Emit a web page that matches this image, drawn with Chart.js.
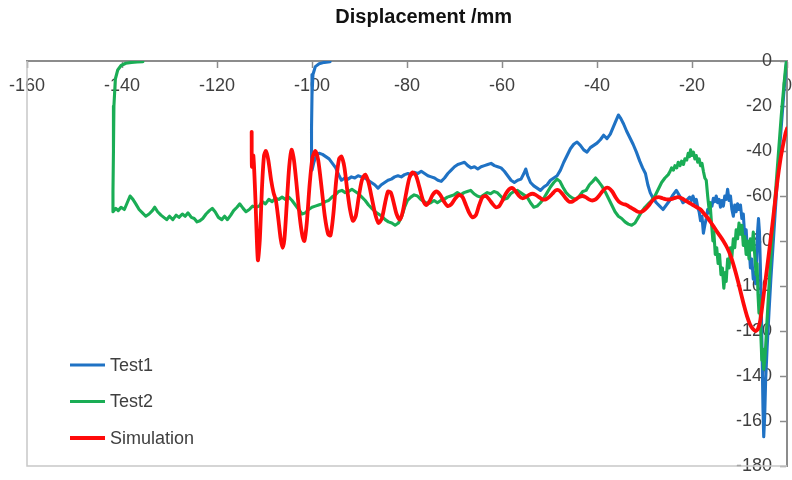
<!DOCTYPE html>
<html>
<head>
<meta charset="utf-8">
<title>Displacement /mm</title>
<script src="https://cdn.jsdelivr.net/npm/chart.js@4/dist/chart.umd.min.js"></script>
<style>
  html, body { margin: 0; padding: 0; background: #ffffff; }
  #wrap { position: relative; width: 792px; height: 480px; }
</style>
</head>
<body>
<div id="wrap"><canvas id="chart" width="792" height="480"></canvas></div>
<script>
// Displacement traces: [x, y] pairs in mm
const test1Points = [
  [-96.2,-0.3],[-97.4,-0.6],[-98.5,-1.2],[-99.3,-2.5],[-99.8,-6],[-100.0,-15],[-100.1,-30],[-100.1,-42],[-100.0,-48.5],[-99.6,-45],
  [-99.1,-42],[-98.5,-41],[-97.8,-41.5],[-97.1,-42.5],[-96.4,-43.5],[-95.7,-45.5],[-95.0,-47.5],[-94.4,-50.5],[-93.8,-53],[-93.1,-52],
  [-92.4,-52.5],[-91.7,-51.5],[-91.0,-52],[-90.3,-51],[-89.6,-51.5],[-88.9,-52],[-88.2,-53],[-87.5,-54],[-86.8,-55],[-86.1,-56.5],
  [-85.4,-55],[-84.7,-54],[-84.0,-53],[-83.3,-52.5],[-82.6,-51.5],[-81.9,-51],[-81.2,-51.5],[-80.5,-50.5],[-79.8,-50],[-79.1,-50.5],
  [-78.4,-49.5],[-77.7,-50],[-77.0,-49],[-76.3,-50],[-75.6,-51],[-74.9,-51.5],[-74.2,-52],[-73.5,-53],[-72.8,-53.5],[-72.1,-52],
  [-71.4,-50],[-70.7,-48.5],[-70.0,-47],[-69.3,-46],[-68.6,-45.5],[-67.9,-45],[-67.2,-46.5],[-66.5,-47.5],[-65.8,-47],[-65.1,-48],
  [-64.4,-47],[-63.7,-46.5],[-63.0,-46],[-62.3,-45.5],[-61.6,-46.5],[-60.9,-47],[-60.2,-47.5],[-59.5,-49],[-58.8,-51],[-58.1,-53],
  [-57.4,-54],[-56.7,-53],[-56.0,-52.5],[-55.4,-50],[-55.0,-48],[-54.6,-51],[-54.0,-54],[-53.3,-55.5],[-52.6,-56.5],[-51.9,-57.5],
  [-51.2,-56],[-50.5,-55],[-49.8,-53],[-49.1,-52],[-48.4,-51],[-47.7,-48.5],[-47.0,-45],[-46.3,-42],[-45.6,-39],[-44.9,-37],
  [-44.2,-36],[-43.5,-37.5],[-42.8,-39.5],[-42.1,-40.5],[-41.4,-38.5],[-40.7,-37.5],[-40.0,-36.5],[-39.3,-35],[-38.6,-33],[-37.9,-34.5],
  [-37.2,-32.5],[-36.6,-29.5],[-36.0,-26.5],[-35.5,-24],[-35.0,-25.5],[-34.4,-28],[-33.8,-31],[-33.1,-34],[-32.4,-37],[-31.7,-40.5],
  [-31.0,-44.5],[-30.4,-47.5],[-29.8,-50],[-29.3,-55],[-28.8,-58.5],[-28.2,-61],[-27.5,-63],[-26.8,-64.5],[-26.1,-66],[-25.4,-64],
  [-24.7,-62],[-24.0,-59.5],[-23.3,-57.5],[-22.6,-60],[-21.9,-63],[-21.2,-62],[-20.5,-60.5],[-20.1,-62],[-19.8,-60],[-19.4,-63],
  [-19.1,-61.5],[-18.8,-65],[-18.5,-67],[-18.2,-71],[-17.9,-69],[-17.6,-76.5],[-17.3,-73],[-17.0,-70],[-16.7,-66],[-16.4,-67.5],
  [-16.1,-63],[-15.8,-64.5],[-15.5,-61],[-15.2,-62.5],[-14.9,-60],[-14.6,-63],[-14.3,-61.5],[-14.0,-65],[-13.7,-62],[-13.4,-64.5],
  [-13.1,-60],[-12.8,-61.5],[-12.5,-57],[-12.2,-62],[-11.9,-60],[-11.6,-66],[-11.3,-69],[-11.0,-64],[-10.7,-67],[-10.4,-63.5],
  [-10.1,-66],[-9.8,-64],[-9.5,-70],[-9.2,-68],[-8.9,-78],[-8.6,-75],[-8.3,-86],[-8.0,-82],[-7.7,-92],[-7.4,-88],
  [-7.1,-97],[-6.8,-94],[-6.6,-99],[-6.4,-88],[-6.2,-76],[-6.0,-70],[-5.8,-76],[-5.6,-92],[-5.4,-112],[-5.2,-135],
  [-5.05,-155],[-4.9,-167],[-4.7,-158],[-4.5,-142],[-4.2,-128],[-3.8,-112],[-3.4,-97],[-3.0,-84],[-2.6,-71],[-2.2,-58],
  [-1.7,-43],[-1.2,-29],[-0.7,-15],[-0.3,-5],[-0.1,0]
];

const test2Points = [
  [-135.6,-0.3],[-136.8,-0.4],[-138.0,-0.6],[-139.2,-1.0],[-140.2,-2],[-140.9,-4],[-141.4,-8],[-141.7,-20],[-141.8,-40],[-141.9,-58],
  [-141.9,-67],[-141.3,-65.5],[-140.8,-66.5],[-140.2,-65],[-139.5,-66],[-138.9,-63],[-138.3,-60],[-137.7,-61.5],[-137.1,-63.5],[-136.4,-66],
  [-135.7,-67.5],[-135.0,-69],[-134.3,-68],[-133.6,-66.5],[-133.1,-65],[-132.5,-67],[-131.8,-68.5],[-131.2,-69.5],[-130.6,-70.5],[-130.0,-69],
  [-129.3,-70.5],[-128.6,-68.5],[-128.0,-69.5],[-127.3,-68],[-126.7,-69],[-126.1,-67.5],[-125.4,-69.5],[-124.8,-70],[-124.2,-71.5],[-123.6,-71],
  [-123.0,-70],[-122.3,-68],[-121.6,-66.5],[-121.0,-65.5],[-120.4,-67],[-119.7,-69.5],[-119.0,-70.5],[-118.4,-69],[-117.8,-70.5],[-117.1,-68.5],
  [-116.5,-66.5],[-115.8,-65],[-115.2,-63.5],[-114.5,-65.5],[-113.9,-67],[-113.2,-66],[-112.5,-64.5],[-111.8,-65],[-111.1,-64.5],[-110.5,-62.5],
  [-109.8,-63.5],[-109.1,-61.5],[-108.4,-62.5],[-107.7,-61],[-107.0,-61.5],[-106.3,-60.5],[-105.6,-61.5],[-104.9,-60.5],[-104.2,-62],[-103.5,-64],
  [-102.8,-66],[-102.1,-68],[-101.4,-67.5],[-100.7,-66],[-100.0,-65],[-99.3,-64.5],[-98.6,-64],[-97.9,-63.5],[-97.2,-62.5],[-96.5,-62],
  [-95.8,-60.5],[-95.1,-59.5],[-94.4,-58],[-93.7,-57.5],[-93.0,-58.5],[-92.3,-58],[-91.6,-57],[-90.9,-58],[-90.2,-59],[-89.5,-60.5],
  [-88.8,-62],[-88.1,-64],[-87.4,-65.5],[-86.7,-67],[-86.0,-68],[-85.3,-69],[-84.6,-70.5],[-83.9,-71.5],[-83.2,-72],[-82.5,-73],
  [-81.8,-72],[-81.1,-69],[-80.5,-65],[-79.9,-62],[-79.2,-60.5],[-78.5,-59.5],[-77.8,-60],[-77.1,-61.5],[-76.4,-62.5],[-75.7,-63.5],
  [-75.0,-63],[-74.3,-62],[-73.6,-63],[-72.9,-62],[-72.2,-61.5],[-71.5,-60.5],[-70.8,-60],[-70.1,-59.5],[-69.4,-58.5],[-68.7,-59.5],
  [-68.0,-58.5],[-67.3,-58],[-66.6,-57.5],[-65.9,-59],[-65.2,-60],[-64.5,-60.5],[-63.8,-59.5],[-63.1,-58.5],[-62.4,-59],[-61.7,-58],
  [-61.0,-58.5],[-60.3,-60],[-59.6,-61.5],[-58.9,-61],[-58.2,-59],[-57.5,-58],[-56.8,-57.5],[-56.1,-58.5],[-55.4,-59.5],[-54.7,-60.5],
  [-54.0,-63],[-53.3,-65],[-52.6,-64.5],[-51.9,-63],[-51.2,-61],[-50.5,-58.5],[-49.8,-56],[-49.1,-54],[-48.4,-52.5],[-47.8,-53.5],
  [-47.2,-56],[-46.5,-58.5],[-45.8,-60],[-45.1,-61],[-44.4,-61.5],[-43.7,-60],[-43.0,-58],[-42.3,-57.5],[-41.6,-55],[-40.9,-53.5],
  [-40.3,-52],[-39.7,-53.5],[-39.0,-55.5],[-38.3,-58],[-37.6,-61],[-36.9,-64],[-36.2,-67],[-35.5,-69],[-34.8,-70],[-34.1,-71.5],
  [-33.4,-72.5],[-32.7,-73],[-32.0,-72],[-31.3,-69.5],[-30.6,-67],[-29.9,-65],[-29.2,-63.5],[-28.5,-62],[-27.8,-60],[-27.1,-57],
  [-26.4,-54],[-25.7,-52],[-25.0,-50.5],[-24.6,-49],[-24.3,-47.5],[-23.9,-48.5],[-23.6,-46.5],[-23.2,-47.5],[-22.9,-45],[-22.5,-46.5],
  [-22.2,-44.5],[-21.8,-46],[-21.5,-43.5],[-21.1,-44],[-20.8,-41],[-20.5,-42.5],[-20.3,-39.5],[-20.0,-42],[-19.7,-40.5],[-19.4,-43.5],
  [-19.1,-42],[-18.8,-45],[-18.5,-43.5],[-18.2,-46.5],[-17.9,-45.5],[-17.6,-49],[-17.3,-52],[-17.0,-53],[-16.7,-60],[-16.4,-66],
  [-16.2,-63],[-15.9,-72],[-15.6,-80],[-15.4,-76],[-15.1,-86],[-14.8,-83],[-14.5,-90],[-14.2,-86],[-13.9,-95],[-13.6,-92],
  [-13.3,-101],[-13.0,-94],[-12.8,-98],[-12.5,-88],[-12.2,-92],[-11.9,-83],[-11.6,-87],[-11.3,-79],[-11.0,-83],[-10.7,-75],
  [-10.4,-79],[-10.1,-72],[-9.8,-77],[-9.5,-73],[-9.2,-82],[-8.9,-78],[-8.6,-86],[-8.3,-80],[-8.0,-88],[-7.7,-79],
  [-7.4,-84],[-7.1,-76],[-6.8,-86],[-6.5,-95],[-6.3,-90],[-6.1,-104],[-5.9,-112],[-5.7,-106],[-5.5,-122],[-5.3,-133],
  [-5.1,-128],[-4.9,-137],[-4.6,-131],[-4.3,-119],[-3.9,-104],[-3.5,-90],[-3.1,-78],[-2.7,-66],[-2.2,-52],[-1.7,-38],
  [-1.2,-24],[-0.7,-12],[-0.3,-3],[-0.1,0]
];

const simulationPoints = [
  [-112.7,-31.5],[-112.65,-47],[-112.35,-42],[-111.9,-62],[-111.4,-88.5],[-111.0,-80],[-110.5,-55],[-110.1,-42],
  [-109.7,-40],[-109.2,-44],[-108.6,-53],[-108.1,-58.5],[-107.6,-62],[-107.1,-70],[-106.6,-79],[-106.2,-83],[-105.8,-79],[-105.3,-63],
  [-104.8,-47],[-104.3,-39.5],[-103.8,-44],[-103.2,-56],[-102.6,-69],[-102.0,-78],[-101.6,-80],[-101.1,-72],[-100.5,-55],[-99.9,-43],
  [-99.3,-40],[-98.7,-44],[-98.0,-56],[-97.3,-69],[-96.6,-77],[-96.1,-77.5],[-95.5,-68],[-94.9,-53],[-94.3,-43.5],[-93.8,-42.5],
  [-93.2,-47],[-92.6,-57],[-92.0,-66],[-91.4,-71],[-90.8,-69],[-90.2,-61],[-89.5,-53],[-88.8,-50.5],[-88.1,-54],[-87.4,-61],
  [-86.7,-68],[-86.0,-72],[-85.3,-70],[-84.6,-63],[-84.0,-58],[-83.4,-58.5],[-82.8,-63],[-82.2,-68],[-81.5,-70.5],[-80.9,-67],
  [-80.2,-59],[-79.5,-52],[-78.8,-49.5],[-78.1,-51],[-77.4,-56],[-76.7,-61.5],[-76.0,-64],[-75.3,-62.5],[-74.6,-59.5],[-73.8,-58],
  [-73.0,-59.5],[-72.2,-62.5],[-71.4,-64.5],[-70.6,-63.5],[-69.8,-61],[-69.0,-59.5],[-68.3,-60.5],[-67.6,-64],[-66.9,-67.5],[-66.2,-69.5],
  [-65.5,-68.5],[-64.8,-64],[-64.1,-60.5],[-63.4,-60],[-62.7,-61.5],[-62.0,-63.5],[-61.3,-65],[-60.6,-64.5],[-59.9,-62],[-59.2,-59],
  [-58.5,-57],[-57.8,-56.5],[-57.1,-58],[-56.4,-60],[-55.7,-61],[-55.0,-60.5],[-54.3,-59.5],[-53.6,-59],[-52.9,-59.5],[-52.2,-60.5],
  [-51.5,-61.5],[-50.8,-61.5],[-50.1,-60.5],[-49.4,-59],[-48.7,-57.5],[-48.0,-57.5],[-47.3,-59],[-46.6,-61],[-45.9,-62.5],[-45.2,-62.5],
  [-44.5,-61.5],[-43.8,-60.5],[-43.1,-60],[-42.4,-60.5],[-41.7,-61.5],[-41.0,-62],[-40.3,-61.5],[-39.6,-60],[-38.9,-58],[-38.2,-56.5],
  [-37.5,-56.5],[-36.8,-58],[-36.1,-60.5],[-35.4,-62.5],[-34.6,-63.5],[-33.8,-64],[-33.0,-65],[-32.2,-66],[-31.4,-67],[-30.6,-67],
  [-29.9,-66],[-29.2,-64.5],[-28.5,-62.5],[-27.8,-61],[-27.0,-60.5],[-26.2,-61],[-25.4,-61.5],[-24.6,-61.5],[-23.8,-61],[-23.0,-60.5],
  [-22.2,-61],[-21.4,-62],[-20.6,-63],[-19.8,-64],[-19.0,-65],[-18.2,-66],[-17.4,-68],[-16.6,-70],[-15.8,-72.5],[-15.0,-75],
  [-14.2,-77.5],[-13.4,-80],[-12.6,-83],[-11.8,-87],[-11.0,-92.5],[-10.3,-98],[-9.6,-104],[-9.0,-109],[-8.4,-113.5],[-7.8,-117],
  [-7.2,-119],[-6.6,-120],[-6.1,-119],[-5.6,-115],[-5.1,-107],[-4.5,-97],[-3.9,-87],[-3.2,-75],[-2.6,-64],[-2.0,-53],
  [-1.4,-44],[-0.8,-37],[-0.3,-32],[0,-30]
];

const seriesNames = ['Test1', 'Test2', 'Simulation'];
const seriesColors = ['#1f72c4', '#1aad55', '#ff0a0a'];
const seriesWidths = [3.1, 3.1, 3.8];
const chartTitle = 'Displacement /mm';
const xRange = [-160, 0];
const yRange = [-180, 0];
const tickStep = 20;

const TEXT_COLOR = '#3f3f3f';
const AXIS_COLOR = '#8c8c8c';
const FRAME_COLOR = '#c8c8c8';
const FONT_FAMILY = "'Liberation Sans', Arial, sans-serif";

const toXY = (pairs) => pairs.map(([x, y]) => ({ x, y }));

// Left and bottom edges of the plot frame (the top and right edges are the axes)
const plotFrame = {
  id: 'plotFrame',
  beforeDatasetsDraw(chart) {
    const { ctx, chartArea: a } = chart;
    ctx.save();
    ctx.strokeStyle = FRAME_COLOR;
    ctx.lineWidth = 1.5;
    ctx.beginPath();
    ctx.moveTo(a.left, a.top);
    ctx.lineTo(a.left, a.bottom);
    ctx.lineTo(a.right, a.bottom);
    ctx.stroke();
    ctx.restore();
  }
};

// Title above the plot and the legend in the lower-left corner of the plot
const annotations = {
  id: 'annotations',
  afterDraw(chart) {
    const { ctx, chartArea: a } = chart;
    ctx.save();
    ctx.fillStyle = '#111111';
    ctx.font = `bold 20px ${FONT_FAMILY}`;
    ctx.textAlign = 'center';
    ctx.textBaseline = 'middle';
    ctx.fillText(chartTitle, a.left + (a.right - a.left) * 0.522, 17);

    ctx.font = `18px ${FONT_FAMILY}`;
    ctx.textAlign = 'left';
    chart.data.datasets.forEach((ds, i) => {
      const y = a.top + 304 + i * 36.5;
      ctx.strokeStyle = ds.borderColor;
      ctx.lineWidth = ds.borderWidth;
      ctx.beginPath();
      ctx.moveTo(a.left + 43, y);
      ctx.lineTo(a.left + 78, y);
      ctx.stroke();
      ctx.fillStyle = TEXT_COLOR;
      ctx.fillText(ds.label, a.left + 83, y + 1);
    });
    ctx.restore();
  }
};

const noPadding = (scale) => {
  scale.paddingLeft = 0;
  scale.paddingRight = 0;
  scale.paddingTop = 0;
  scale.paddingBottom = 0;
};

new Chart(document.getElementById('chart'), {
  type: 'scatter',
  data: {
    datasets: [test1Points, test2Points, simulationPoints].map((pts, i) => ({
      label: seriesNames[i],
      data: toXY(pts),
      showLine: true,
      borderColor: seriesColors[i],
      backgroundColor: seriesColors[i],
      borderWidth: seriesWidths[i],
      pointRadius: 0,
      tension: i === 2 ? 0.25 : 0,
      order: 3 - i,
      borderJoinStyle: 'round',
      borderCapStyle: 'round'
    }))
  },
  options: {
    responsive: false,
    devicePixelRatio: 1,
    animation: false,
    layout: { padding: { left: 27, right: 5, top: 61, bottom: 14 } },
    plugins: {
      legend: { display: false },
      title: { display: false },
      tooltip: { enabled: false }
    },
    scales: {
      x: {
        type: 'linear',
        position: { y: 0 },
        min: xRange[0],
        max: xRange[1],
        afterFit: noPadding,
        ticks: {
          stepSize: tickStep,
          color: TEXT_COLOR,
          font: { family: FONT_FAMILY, size: 18 },
          padding: 8,
          maxRotation: 0,
          autoSkip: false
        },
        grid: { drawOnChartArea: false, drawTicks: true, tickLength: 6, tickColor: AXIS_COLOR, tickWidth: 1.5 },
        border: { display: true, color: AXIS_COLOR, width: 2 }
      },
      y: {
        type: 'linear',
        position: { x: 0 },
        min: yRange[0],
        max: yRange[1],
        afterFit: noPadding,
        ticks: {
          stepSize: tickStep,
          color: TEXT_COLOR,
          font: { family: FONT_FAMILY, size: 18 },
          autoSkip: false,
          // labels sit inside the plot, clear of the tick marks on the right-hand axis
          callback: (value) => `${value}   `
        },
        grid: { drawOnChartArea: false, drawTicks: true, tickLength: 6, tickColor: AXIS_COLOR, tickWidth: 1.5 },
        border: { display: true, color: AXIS_COLOR, width: 2 }
      }
    }
  },
  plugins: [plotFrame, annotations]
});
</script>
</body>
</html>
